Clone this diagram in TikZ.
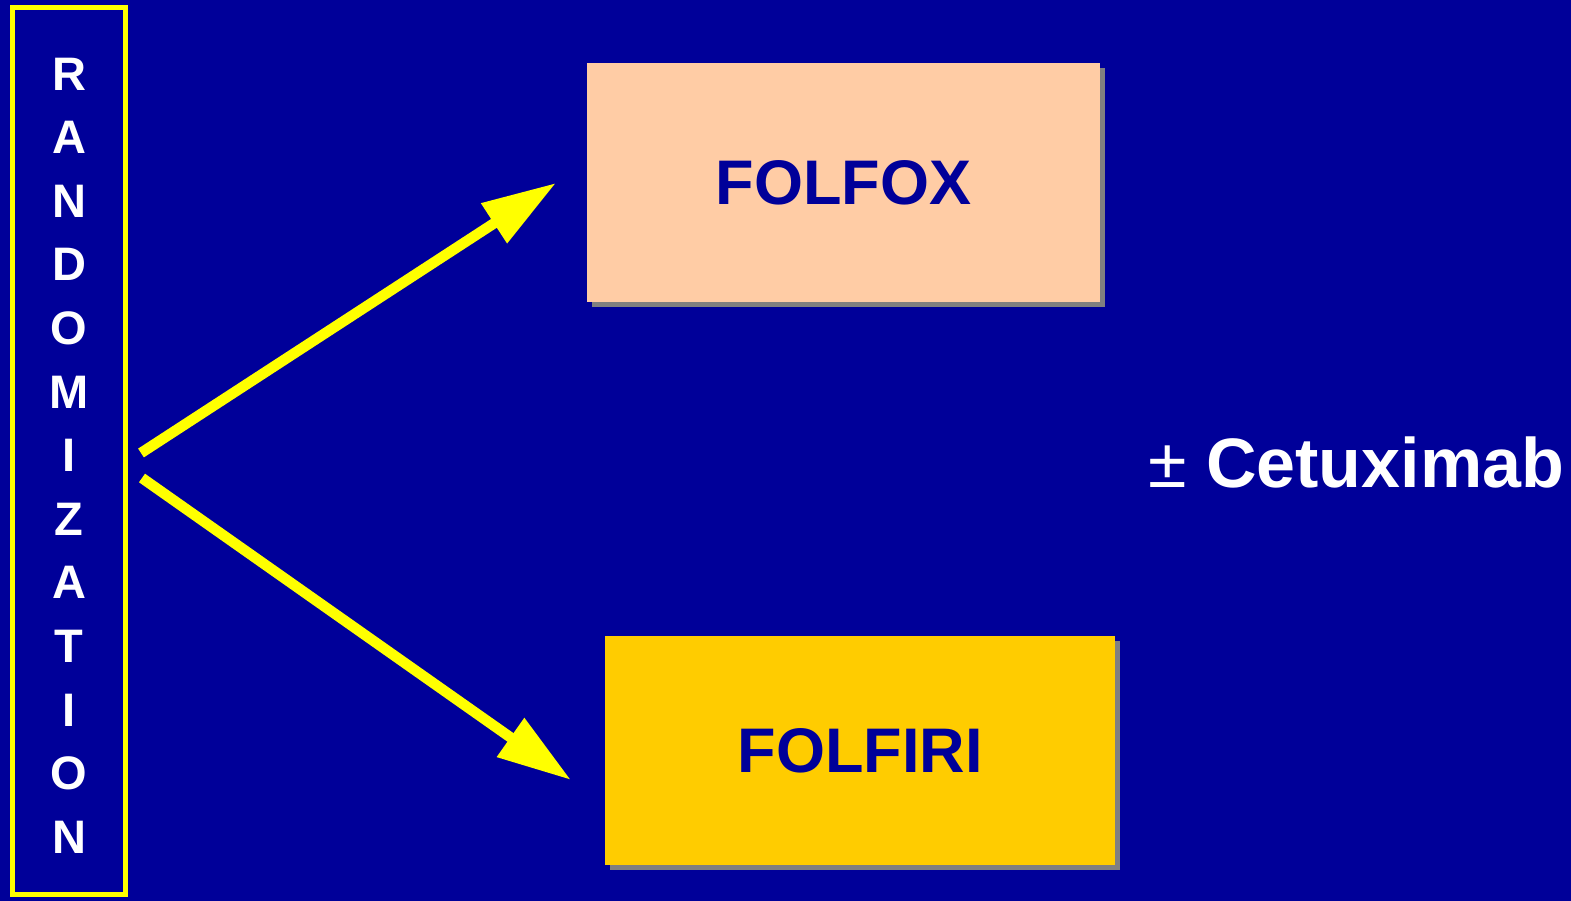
\documentclass[tikz,border=0pt]{standalone}
\usepackage{fontspec}
\setmainfont{Liberation Sans}
\usetikzlibrary{arrows.meta,shadows}
\definecolor{bgblue}{RGB}{0,0,153}
\definecolor{peach}{RGB}{255,204,165}
\definecolor{gold}{RGB}{255,204,0}
\definecolor{ylw}{RGB}{255,255,0}
\definecolor{shadowgray}{RGB}{128,128,128}
\tikzset{
  armbox/.style={draw=none, inner sep=0pt, text=bgblue,
    font=\bfseries\fontsize{63}{70}\selectfont,
    copy shadow={shadow xshift=5pt, shadow yshift=-5pt, fill=shadowgray, draw=none}},
  yarrow/.style={draw=ylw, line width=10.5pt,
    -{Triangle[length=74pt,width=45pt]}}
}
\begin{document}
\begin{tikzpicture}[x=1pt,y=-1pt]
\fill[bgblue] (0,0) rectangle (1571,901);
\useasboundingbox (0,0) rectangle (1571,901);
% randomization box
\node[draw=ylw, line width=5.5pt, minimum width=113pt, minimum height=887pt, inner sep=0pt] (rbox) at (69,451) {};
\node[text=white, align=center, inner sep=0pt,
  font=\bfseries\fontsize{47}{63.6}\selectfont] (rtext) at (69,455.5)
  {R\\A\\N\\D\\O\\M\\I\\Z\\A\\T\\I\\O\\N};
% arm boxes
\node[armbox, fill=peach, minimum width=513pt, minimum height=239pt] (folfox) at (843.5,182.5) {FOLFOX};
\node[armbox, fill=gold, minimum width=510pt, minimum height=229pt] (folfiri) at (860,750.5) {FOLFIRI};
% arrows
\coordinate (s1) at (141,453);
\coordinate (t1) at (556,183);
\coordinate (s2) at (142,478);
\coordinate (t2) at (571,780);
\draw[yarrow] (s1) -- (t1);
\draw[yarrow] (s2) -- (t2);
% cetuximab
\node[anchor=base west, text=white, inner sep=0pt, font=\fontsize{70}{80}\selectfont] (cetux) at (1148,487)
  {±~\textbf{Cetuximab}};
\end{tikzpicture}
\end{document}
